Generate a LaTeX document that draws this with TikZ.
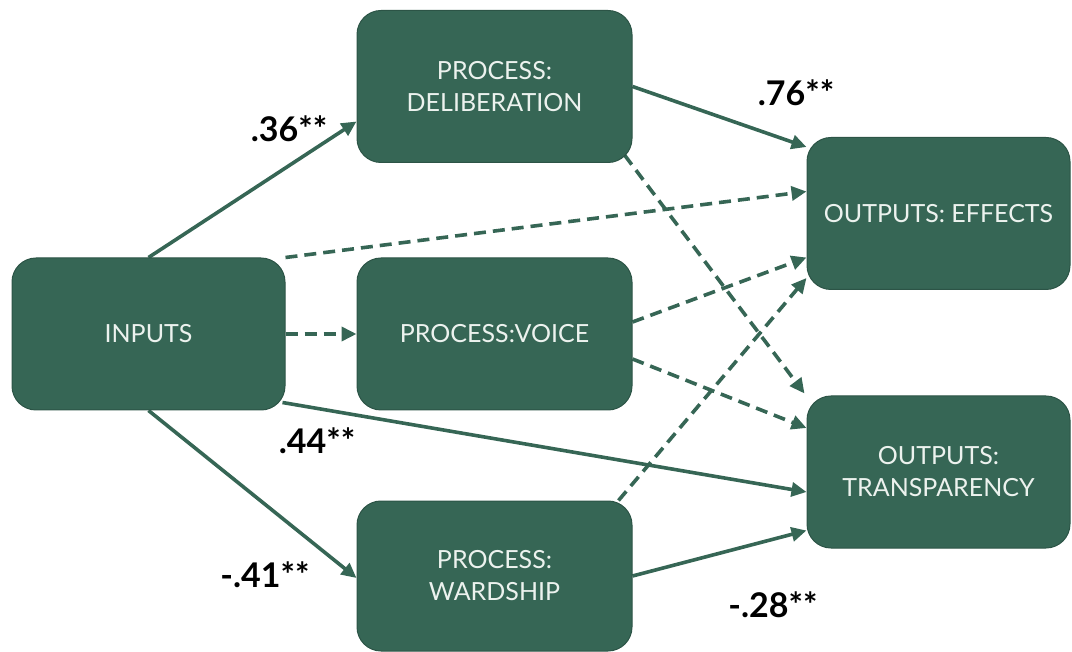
\documentclass[tikz,border=0pt]{standalone}
\usepackage{fontspec}
\setmainfont{Lato}
\usetikzlibrary{arrows.meta,calc,backgrounds}
\definecolor{pine}{RGB}{54,102,85}
\definecolor{pineedge}{RGB}{44,84,70}
\definecolor{boxtext}{RGB}{236,242,238}
\begin{document}
\begin{tikzpicture}[x=1pt,y=-1pt,
  box/.style={draw=pineedge, line width=1pt, fill=pine, rounded corners=24pt,
    text=boxtext, align=center, font=\fontsize{25}{32}\selectfont, inner sep=0pt},
  procbox/.style={box, minimum width=275pt, minimum height=152pt},
  outbox/.style={box, minimum width=263pt, minimum height=152pt},
  link/.style={draw=pine, line width=3.6pt, -{Triangle[length=15pt,width=14pt]}},
  weak/.style={link, dash pattern=on 12pt off 7pt},
  coef/.style={font=\fontsize{34}{38}\selectfont\bfseries, text=black, inner sep=0pt},
]
\useasboundingbox (0,0) rectangle (1072,652);

% boxes
\node[box, minimum width=273pt, minimum height=152pt] (inp) at (148.5,334) {INPUTS};
\node[procbox] (del) at (494.5,86.5) {PROCESS:\\DELIBERATION};
\node[procbox] (voice) at (494.5,334) {PROCESS:VOICE};
\node[procbox, minimum height=150pt] (ward) at (494.5,576) {PROCESS:\\WARDSHIP};
\node[outbox] (eff) at (938.5,213.5) {OUTPUTS: EFFECTS};
\node[outbox] (trans) at (938.5,472) {OUTPUTS:\\TRANSPARENCY};

% paths
\begin{scope}[on background layer]
  \draw[link] (inp.north) -- ($(del.west)+(0,35)$);
  \draw[link] (del.east) -- ($(eff.north west)+(0,10)$);
  \draw[weak] (inp.north east) -- ($(eff.west)+(0,-22)$);
  \draw[weak] (inp.east) -- (voice.west);
  \draw[weak] ($(voice.east)+(0,-12)$) -- ($(eff.west)+(0,44)$);
  \draw[weak] ($(voice.east)+(0,25)$) -- ($(trans.west)+(0,-44)$);
  \draw[weak] ($(del.south east)+(-8,-8)$) -- ($(trans.north west)+(-2,-2)$);
  \draw[weak] ($(ward.north east)+(-14,0)$) -- ($(eff.south west)+(0,-12)$);
  \draw[link] ($(inp.south east)+(-3,-8)$) -- ($(trans.west)+(0,20)$);
  \draw[link] (inp.south) -- ($(ward.west)+(0,2)$);
  \draw[link] (ward.east) -- ($(trans.south west)+(0,-18)$);
\end{scope}

% coefficients
\node[coef] (c1) at (289,129) {.36**};
\node[coef] (c2) at (796,93) {.76**};
\node[coef] (c3) at (317,441) {.44**};
\node[coef] (c4) at (265,575) {-.41**};
\node[coef] (c5) at (773,605) {-.28**};
\end{tikzpicture}
\end{document}
